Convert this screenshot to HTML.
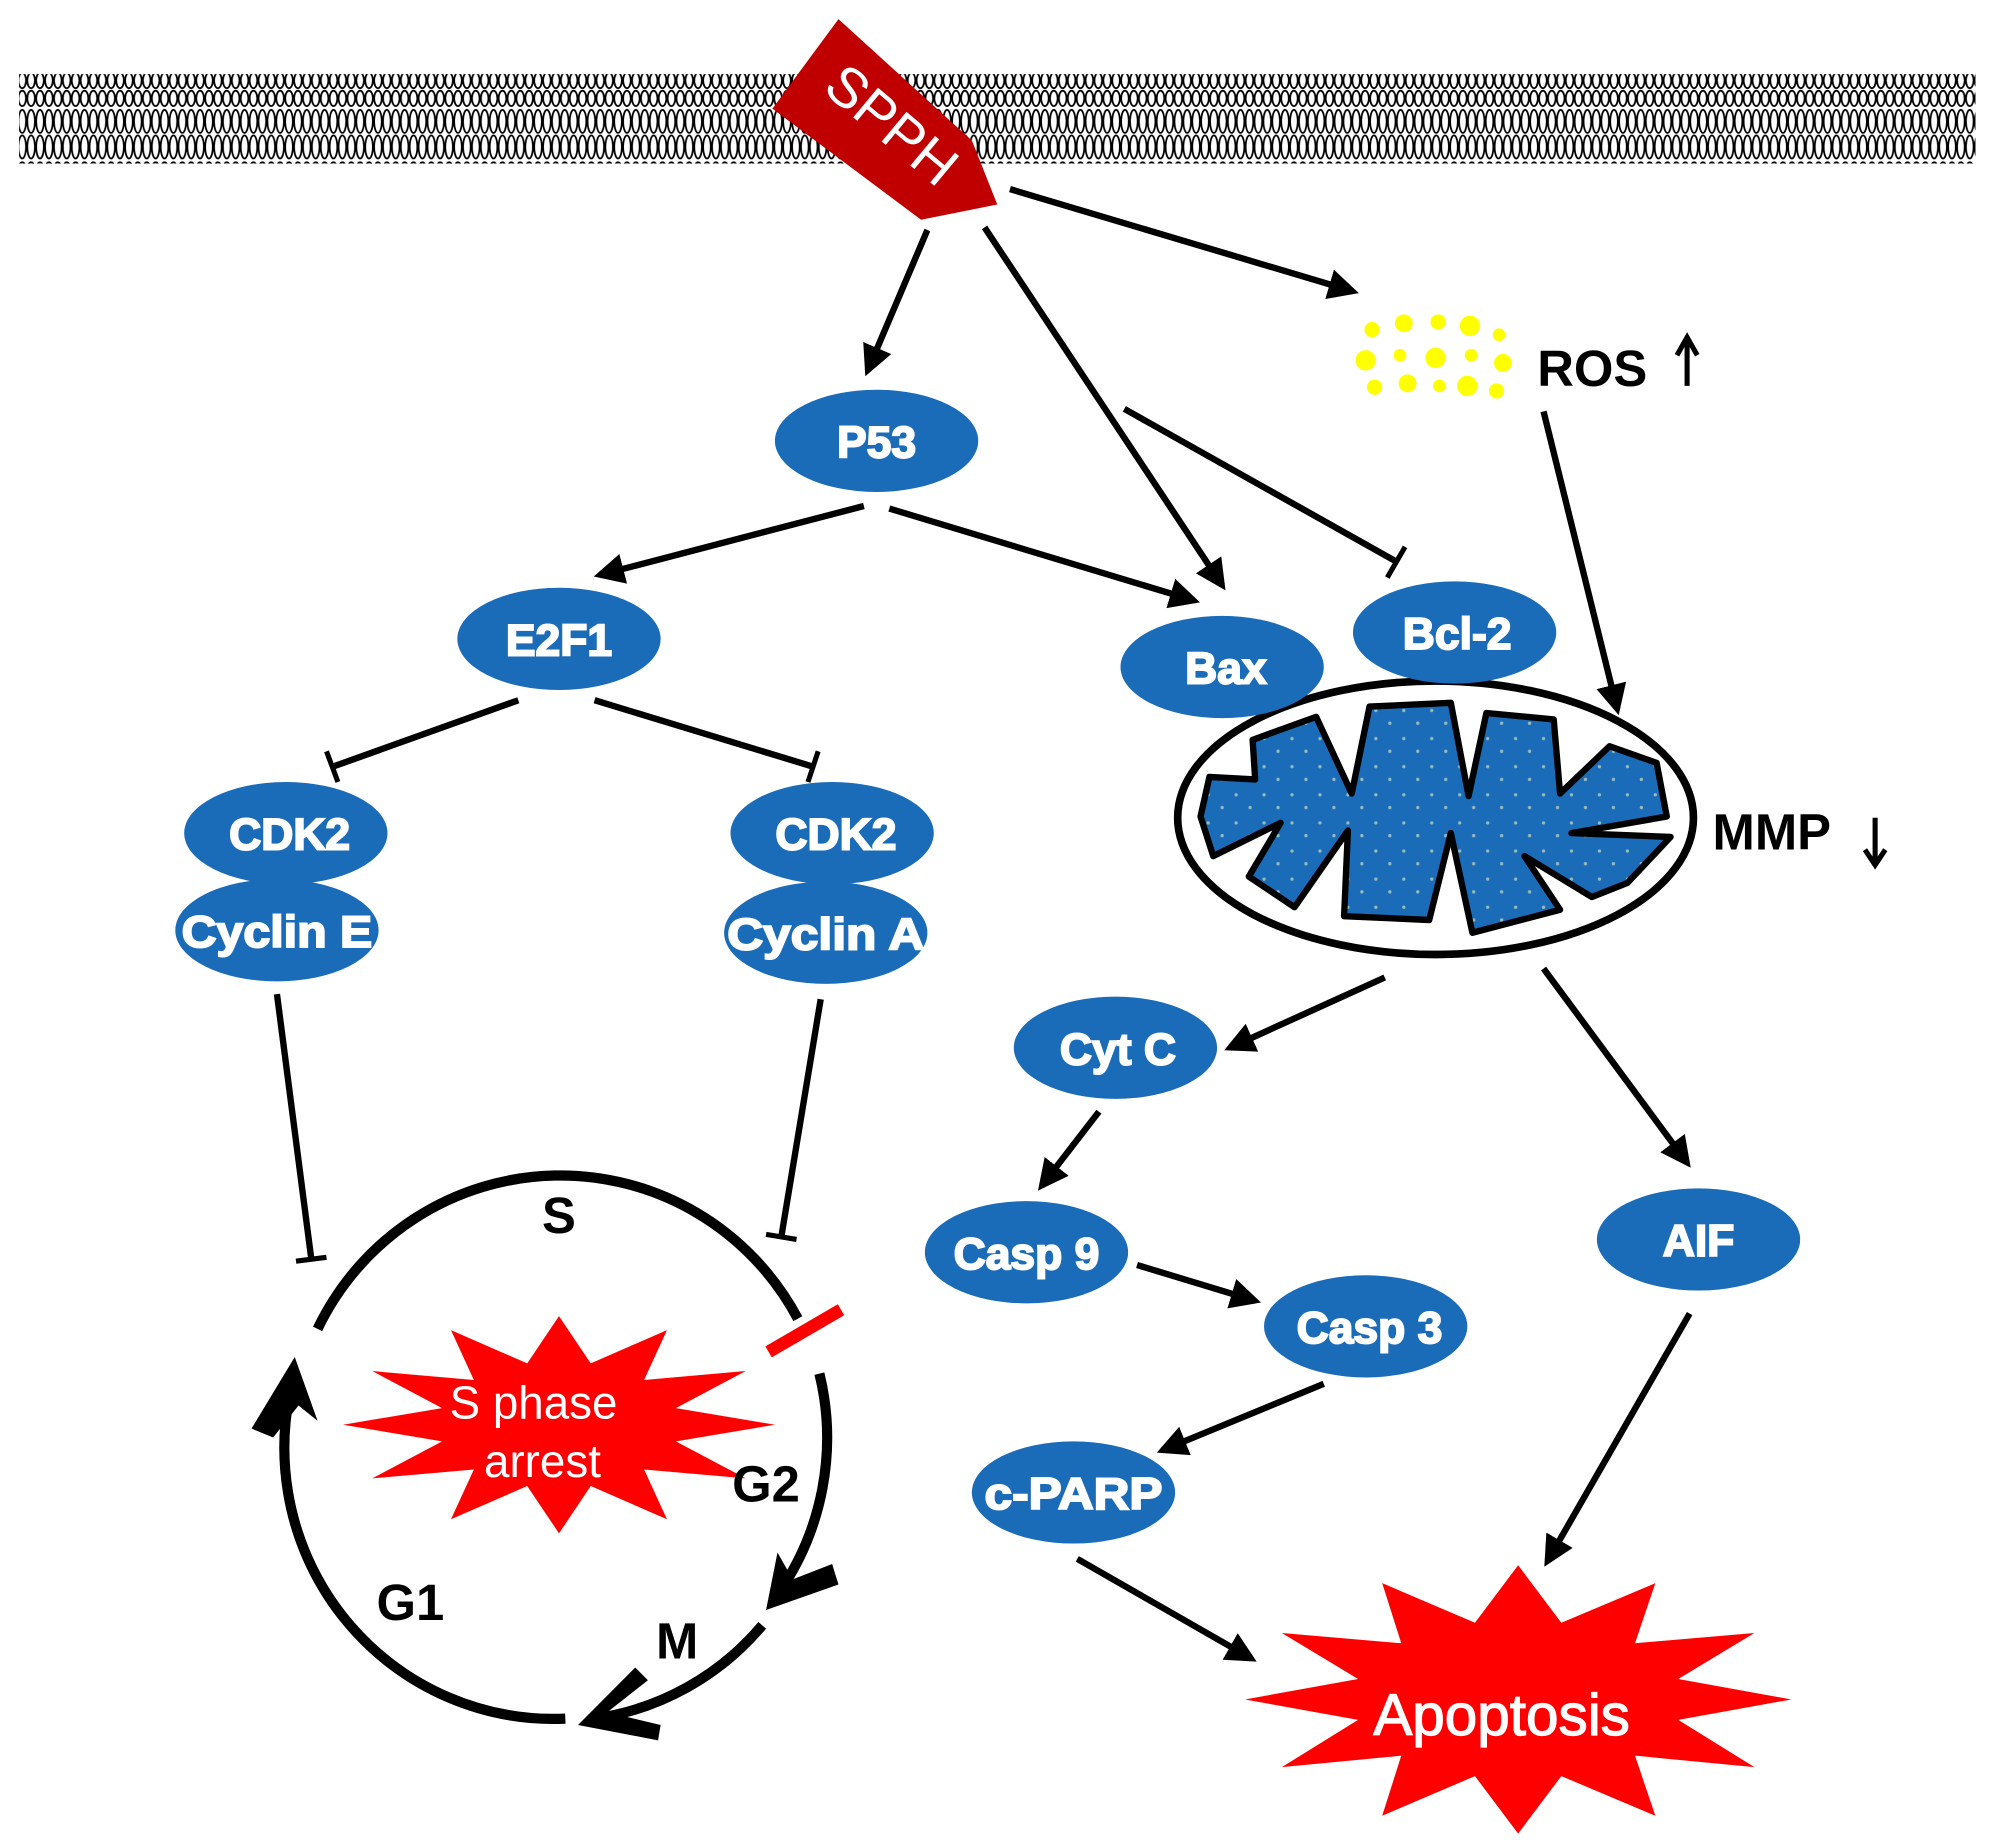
<!DOCTYPE html>
<html><head><meta charset="utf-8"><style>html,body{margin:0;padding:0;background:#fff}svg{display:block}</style></head><body>
<svg width="1992" height="1840" viewBox="0 0 1568 1440" preserveAspectRatio="none" xmlns="http://www.w3.org/2000/svg" font-family="Liberation Sans, sans-serif">
<defs>
<pattern id="lip" width="7" height="70" patternUnits="userSpaceOnUse">
<ellipse cx="3.5" cy="7" rx="3" ry="6" fill="#fff" stroke="#000" stroke-width="1.4"/>
<ellipse cx="3.5" cy="25" rx="3" ry="9" fill="#fff" stroke="#000" stroke-width="1.4"/>
<ellipse cx="3.5" cy="45" rx="3" ry="9" fill="#fff" stroke="#000" stroke-width="1.4"/>
<ellipse cx="3.5" cy="63" rx="3" ry="6" fill="#fff" stroke="#000" stroke-width="1.4"/>
</pattern>
<pattern id="dots" width="22" height="22" patternUnits="userSpaceOnUse">
<rect width="22" height="22" fill="#1a6bb8"/><circle cx="5" cy="6" r="1.3" fill="#9bb"/><circle cx="16" cy="16" r="1.3" fill="#9bb"/>
</pattern>
<marker id="ah" viewBox="0 0 10 10" refX="8" refY="5" markerWidth="24" markerHeight="24" orient="auto" markerUnits="userSpaceOnUse"><path d="M0,0 L10,5 L0,10 Z" fill="#000"/></marker>
</defs>
<rect x="15" y="58" width="1540" height="70" fill="url(#lip)"/>
<polygon points="660,15 765,110 785,160 725,172 608,85" fill="#c00000"/>
<text x="700" y="112" transform="rotate(40 700 100)" text-anchor="middle" font-size="44" fill="#fff">SPPH</text>

<g stroke="#000" stroke-width="5" fill="none" marker-end="url(#ah)">
<line x1="795" y1="148" x2="1065" y2="228"/>
<line x1="730" y1="180" x2="683" y2="290"/>
<line x1="775" y1="178" x2="962" y2="458"/>
<line x1="680" y1="396" x2="472" y2="450"/>
<line x1="700" y1="398" x2="940" y2="470"/>
<line x1="1215" y1="322" x2="1273" y2="555"/>
<line x1="1090" y1="765" x2="968" y2="820"/>
<line x1="1215" y1="758" x2="1328" y2="910"/>
<line x1="865" y1="870" x2="820" y2="928"/>
<line x1="895" y1="990" x2="988" y2="1018"/>
<line x1="1042" y1="1083" x2="915" y2="1135"/>
<line x1="848" y1="1220" x2="985" y2="1298"/>
<line x1="1330" y1="1028" x2="1218" y2="1222"/>
</g>
<g stroke="#000" stroke-width="5">
<line x1="885" y1="320" x2="1100" y2="440"/><line x1="1092" y1="452" x2="1106" y2="428" stroke-width="4"/>
<line x1="408" y1="548" x2="262" y2="600"/><line x1="257" y1="588" x2="266" y2="612" stroke-width="4"/>
<line x1="468" y1="548" x2="640" y2="600"/><line x1="644" y1="588" x2="636" y2="612" stroke-width="4"/>
<line x1="218" y1="778" x2="245" y2="985"/><line x1="233" y1="987" x2="257" y2="984" stroke-width="4"/>
<line x1="646" y1="782" x2="615" y2="968"/><line x1="603" y1="966" x2="627" y2="970" stroke-width="4"/>
</g>

<g fill="#ff0">
<circle cx="1080" cy="258" r="6"/><circle cx="1105" cy="253" r="7"/><circle cx="1132" cy="252" r="6"/><circle cx="1157" cy="255" r="8"/><circle cx="1180" cy="262" r="5"/>
<circle cx="1075" cy="282" r="8"/><circle cx="1102" cy="278" r="5"/><circle cx="1130" cy="280" r="8"/><circle cx="1158" cy="278" r="5"/><circle cx="1183" cy="284" r="7"/>
<circle cx="1082" cy="303" r="6"/><circle cx="1108" cy="300" r="7"/><circle cx="1133" cy="302" r="5"/><circle cx="1155" cy="302" r="8"/><circle cx="1178" cy="306" r="6"/>
</g>
<text x="1210" y="302" font-size="40" font-weight="bold">ROS</text>
<path d="M1328,302 V266 M1320,278 L1328,264 L1336,278" stroke="#000" stroke-width="4" fill="none"/>

<ellipse cx="1130" cy="640" rx="203" ry="107" fill="#fff" stroke="#000" stroke-width="6"/>
<path d="M945,639 L952,608 L988,610 L986,579 L1036,561 L1064,621 L1078,553 L1142,550 L1156,623 L1170,558 L1223,563 L1228,621 L1267,584 L1304,597 L1312,639 L1237,652 L1315,655 L1281,691 L1253,702 L1200,670 L1228,712 L1159,730 L1142,652 L1125,720 L1058,717 L1061,650 L1019,710 L983,686 L1008,644 L955,670 Z" fill="url(#dots)" stroke="#000" stroke-width="5" stroke-linejoin="round"/>
<text x="1348" y="665" font-size="40" font-weight="bold">MMP</text>
<path d="M1476,640 V675 M1468,665 L1476,677 L1484,665" stroke="#000" stroke-width="4" fill="none"/>

<g fill="#1a6bb8">
<ellipse cx="690" cy="345" rx="80" ry="40"/>
<ellipse cx="440" cy="500" rx="80" ry="40"/>
<ellipse cx="962" cy="522" rx="80" ry="40"/>
<ellipse cx="1145" cy="495" rx="80" ry="40"/>
<ellipse cx="225" cy="652" rx="80" ry="40"/>
<ellipse cx="218" cy="728" rx="80" ry="40"/>
<ellipse cx="655" cy="652" rx="80" ry="40"/>
<ellipse cx="650" cy="730" rx="80" ry="40"/>
<ellipse cx="878" cy="820" rx="80" ry="40"/>
<ellipse cx="808" cy="980" rx="80" ry="40"/>
<ellipse cx="1075" cy="1038" rx="80" ry="40"/>
<ellipse cx="845" cy="1168" rx="80" ry="40"/>
<ellipse cx="1337" cy="970" rx="80" ry="40"/>
</g>
<g fill="#fff" font-weight="bold" font-size="35" text-anchor="middle" stroke="#fff" stroke-width="1.5">
<text x="690" y="358">P53</text>
<text x="440" y="513">E2F1</text>
<text x="965" y="535">Bax</text>
<text x="1147" y="508">Bcl-2</text>
<text x="228" y="665">CDK2</text>
<text x="218" y="741" textLength="150" lengthAdjust="spacingAndGlyphs">Cyclin E</text>
<text x="658" y="665">CDK2</text>
<text x="650" y="743" textLength="155" lengthAdjust="spacingAndGlyphs">Cyclin A</text>
<text x="880" y="833">Cyt C</text>
<text x="808" y="993">Casp 9</text>
<text x="1078" y="1051">Casp 3</text>
<text x="845" y="1181" textLength="140" lengthAdjust="spacingAndGlyphs">c-PARP</text>
<text x="1337" y="983">AIF</text>
</g>

<polygon points="610,1115 532,1128 587,1157 507,1150 525,1189 465,1163 440,1200 415,1163 355,1189 373,1150 293,1157 348,1128 270,1115 348,1102 293,1073 373,1080 355,1041 415,1067 440,1030 465,1067 525,1041 507,1080 587,1073 532,1102" fill="#f00"/>
<text x="420" y="1110" text-anchor="middle" font-size="36" fill="#fff">S phase</text>
<text x="427" y="1156" text-anchor="middle" font-size="36" fill="#fff">arrest</text>

<g stroke="#000" stroke-width="8" fill="none">
<path d="M250,1040 A212,212 0 0 1 628,1032"/>
<path d="M645,1075 A212,212 0 0 1 612,1248"/>
<path d="M600,1272 A212,212 0 0 1 468,1345"/>
<path d="M445,1345 A212,212 0 0 1 232,1075"/>
</g>
<polygon points="603,1260 612,1215 624,1236 655,1224 660,1240" fill="#000"/>
<polygon points="455,1350 500,1305 510,1315 478,1340 520,1350 518,1362" fill="#000"/>
<polygon points="232,1062 250,1112 235,1100 215,1125 198,1118" fill="#000"/>
<line x1="605" y1="1058" x2="662" y2="1025" stroke="#f00" stroke-width="10"/>
<g font-size="40" font-weight="bold" text-anchor="middle">
<text x="440" y="965">S</text>
<text x="603" y="1175">G2</text>
<text x="533" y="1298">M</text>
<text x="323" y="1268">G1</text>
</g>

<polygon points="1410,1330 1321,1346 1381,1383 1287,1374 1303,1421 1229,1390 1195,1435 1161,1390 1088,1421 1103,1374 1009,1383 1069,1346 980,1330 1069,1314 1009,1278 1103,1286 1088,1239 1161,1270 1195,1225 1229,1270 1303,1239 1287,1286 1381,1278 1321,1314" fill="#f00"/>
<text x="1182" y="1358" text-anchor="middle" font-size="46" fill="#fff" stroke="#fff" stroke-width="1">Apoptosis</text>
</svg>
</body></html>
